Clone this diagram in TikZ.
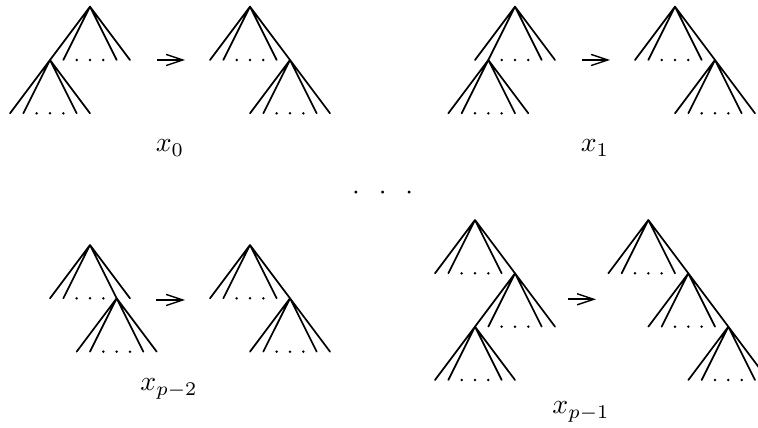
\documentclass[tikz,border=0pt]{standalone}
\usetikzlibrary{arrows.meta}
\begin{document}
\begin{tikzpicture}[x=0.36pt,y=-0.36pt,
  treeline/.style={line width=0.62pt, line cap=round},
  arrowline/.style={line width=0.6pt, -{Straight Barb[length=6pt,width=4pt,line width=0.5pt]}},
  lbl/.style={anchor=base, inner sep=0pt},
  subtree/.pic={
    \draw[treeline] (0,0) -- (-40,53.33) (0,0) -- (-26.67,53.33)
                    (0,0) -- (26.67,53.33) (0,0) -- (40,53.33);
    \foreach \d in {-13.33,0,13.33} \fill (\d,53.33) circle[radius=0.5pt];
  }]
\useasboundingbox (0,0) rectangle (758,428);
% x_0
\pic at (90,6.67) {subtree};
\pic at (50,60) {subtree};
\coordinate (a0s) at (157,60); \coordinate (a0e) at (185,60);
\draw[arrowline] (a0s) -- (a0e);
\pic at (250,6.67) {subtree};
\pic at (290,60) {subtree};
\node[lbl] (l0) at (170,152) {$x_0$};
% x_1
\pic at (515,6.67) {subtree};
\pic at (488.33,60) {subtree};
\coordinate (a1s) at (582,60); \coordinate (a1e) at (610,60);
\draw[arrowline] (a1s) -- (a1e);
\pic at (675,6.67) {subtree};
\pic at (715,60) {subtree};
\node[lbl] (l1) at (595,152) {$x_1$};
% middle dots
\node[lbl] (mid) at (382.7,200) {${\cdot}\hspace{6.82pt}{\cdot}\hspace{6.82pt}{\cdot}$};
% x_{p-2}
\pic at (90,245) {subtree};
\pic at (116.67,298.33) {subtree};
\coordinate (a2s) at (156,300); \coordinate (a2e) at (185,300);
\draw[arrowline] (a2s) -- (a2e);
\pic at (250,245) {subtree};
\pic at (290,298.33) {subtree};
\node[lbl] (l2) at (169,391) {$x_{p-2}$};
% x_{p-1}
\pic at (475,220) {subtree};
\pic at (515,273.33) {subtree};
\pic at (475,326.67) {subtree};
\coordinate (a3s) at (568,299.3); \coordinate (a3e) at (596,299.3);
\draw[arrowline] (a3s) -- (a3e);
\pic at (648.33,220) {subtree};
\pic at (688.33,273.33) {subtree};
\pic at (728.33,326.67) {subtree};
\node[lbl] (l3) at (581,414) {$x_{p-1}$};
\end{tikzpicture}
\end{document}
